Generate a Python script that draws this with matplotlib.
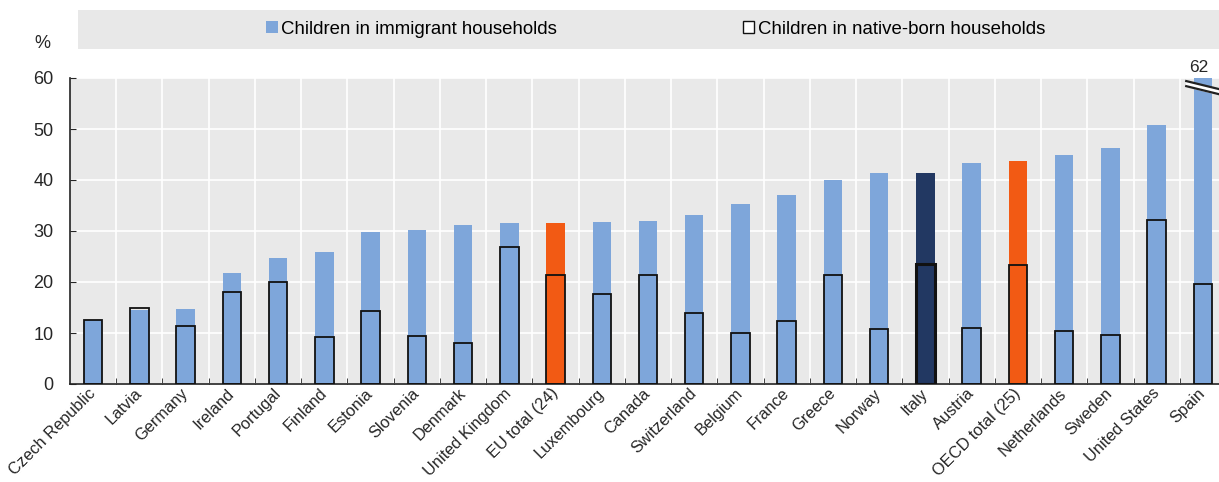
import numpy as np
import matplotlib
matplotlib.use('Agg')
import matplotlib.pyplot as plt
import matplotlib.transforms as mtransforms
from matplotlib.patches import Patch, Rectangle

plt.rcParams['font.family'] = ['Liberation Sans', 'DejaVu Sans']

countries = ['Czech Republic', 'Latvia', 'Germany', 'Ireland', 'Portugal', 'Finland',
             'Estonia', 'Slovenia', 'Denmark', 'United Kingdom', 'EU total (24)',
             'Luxembourg', 'Canada', 'Switzerland', 'Belgium', 'France', 'Greece',
             'Norway', 'Italy', 'Austria', 'OECD total (25)', 'Netherlands', 'Sweden',
             'United States', 'Spain']
immigrant = [12.6, 14.5, 14.7, 21.8, 24.7, 25.8, 29.9, 30.1, 31.2, 31.5, 31.5,
             31.8, 32.0, 33.1, 35.3, 37.0, 40.0, 41.3, 41.3, 43.4, 43.7, 44.9, 46.2,
             50.8, 62.0]
native = [12.6, 15.0, 11.3, 18.1, 20.0, 9.2, 14.3, 9.4, 8.0, 26.8, 21.4,
          17.6, 21.4, 14.0, 10.0, 12.3, 21.4, 10.7, 23.6, 11.0, 23.3, 10.3, 9.7,
          32.2, 19.7]
highlight_orange = ['EU total (24)', 'OECD total (25)']
highlight_navy = ['Italy']
ymax = 60

blue = '#7ea6da'
orange = '#f25a14'
navy = '#223862'
txt = '#262626'

fig = plt.figure(figsize=(12.19, 4.82), dpi=100)
ax = fig.add_axes([70 / 1219, 1 - 384 / 482, 1156 / 1219, 306 / 482])
ax.set_facecolor('#e9e9e9')

x = np.arange(len(countries))
colors = []
for c in countries:
    if c in highlight_orange:
        colors.append(orange)
    elif c in highlight_navy:
        colors.append(navy)
    else:
        colors.append(blue)

ax.bar(x, immigrant, width=0.4, color=colors, zorder=2)
lws = [2.2 if c in highlight_navy else 1.3 for c in countries]
ax.bar(x, native, width=0.4, facecolor='none', edgecolor='#111111', linewidth=lws, zorder=3)

ax.set_xlim(-0.5, len(countries) - 0.5)
ax.set_ylim(0, ymax)

# break marks on bars above the axis limit
for i, v in enumerate(immigrant):
    if v > ymax:
        xs = np.array([i - 0.36, i + 0.36])
        ax.fill_between(xs, [59.4, 57.8], [58.4, 56.8], color='white', zorder=4, clip_on=False)
        ax.plot(xs, [59.4, 57.8], color='#222222', lw=1.6, zorder=5, clip_on=False)
        ax.plot(xs, [58.4, 56.8], color='#222222', lw=1.6, zorder=5, clip_on=False)
        ax.text(i - 0.1, ymax + 0.6, '%d' % round(v), ha='center', va='bottom', fontsize=12.5,
                color=txt, clip_on=False)

ax.set_yticks(np.arange(0, 61, 10))
ax.set_xticks(x)
ax.set_xticklabels(countries, rotation=45, ha='right', va='center', rotation_mode='anchor',
                   fontsize=11.8, color=txt)
shift = mtransforms.ScaledTranslation(5 / 100, 0, fig.dpi_scale_trans)
for lab in ax.get_xticklabels():
    lab.set_transform(lab.get_transform() + shift)
ax.set_xticks(x[:-1] + 0.5, minor=True)
ax.tick_params(axis='x', which='major', length=0, pad=5)
ax.tick_params(axis='x', which='minor', direction='in', length=4, color='#222222')
ax.tick_params(axis='y', direction='in', length=4, labelsize=13, colors=txt, pad=12)

ax.grid(axis='y', color='white', lw=1.2, zorder=0)
ax.grid(axis='x', which='minor', color='white', lw=1.2, zorder=0)
ax.set_axisbelow(True)
for s in ['top', 'right']:
    ax.spines[s].set_visible(False)
for s in ['left', 'bottom']:
    ax.spines[s].set_color('#222222')
    ax.spines[s].set_linewidth(1.2)

fig.text(42 / 1219, 1 - 43 / 482, '%', ha='center', va='center', fontsize=13, color=txt)

# legend band
fig.patches.append(Rectangle((78 / 1219, 1 - 49 / 482), 1 - 78 / 1219, 39 / 482,
                             transform=fig.transFigure, facecolor='#e8e8e8', edgecolor='none', zorder=0))
handles = [Patch(facecolor=blue, edgecolor='none', label='Children in immigrant households'),
           Patch(facecolor='white', edgecolor='#111111', linewidth=1.0, label='Children in native-born households')]
fig.legend(handles=handles, loc='center', bbox_to_anchor=(656 / 1219, 1 - 29 / 482), ncol=2,
           frameon=False, fontsize=13.4, handlelength=0.6, handleheight=0.6, handletextpad=0.2,
           columnspacing=10.0)

fig.savefig('out.png', dpi=100)
